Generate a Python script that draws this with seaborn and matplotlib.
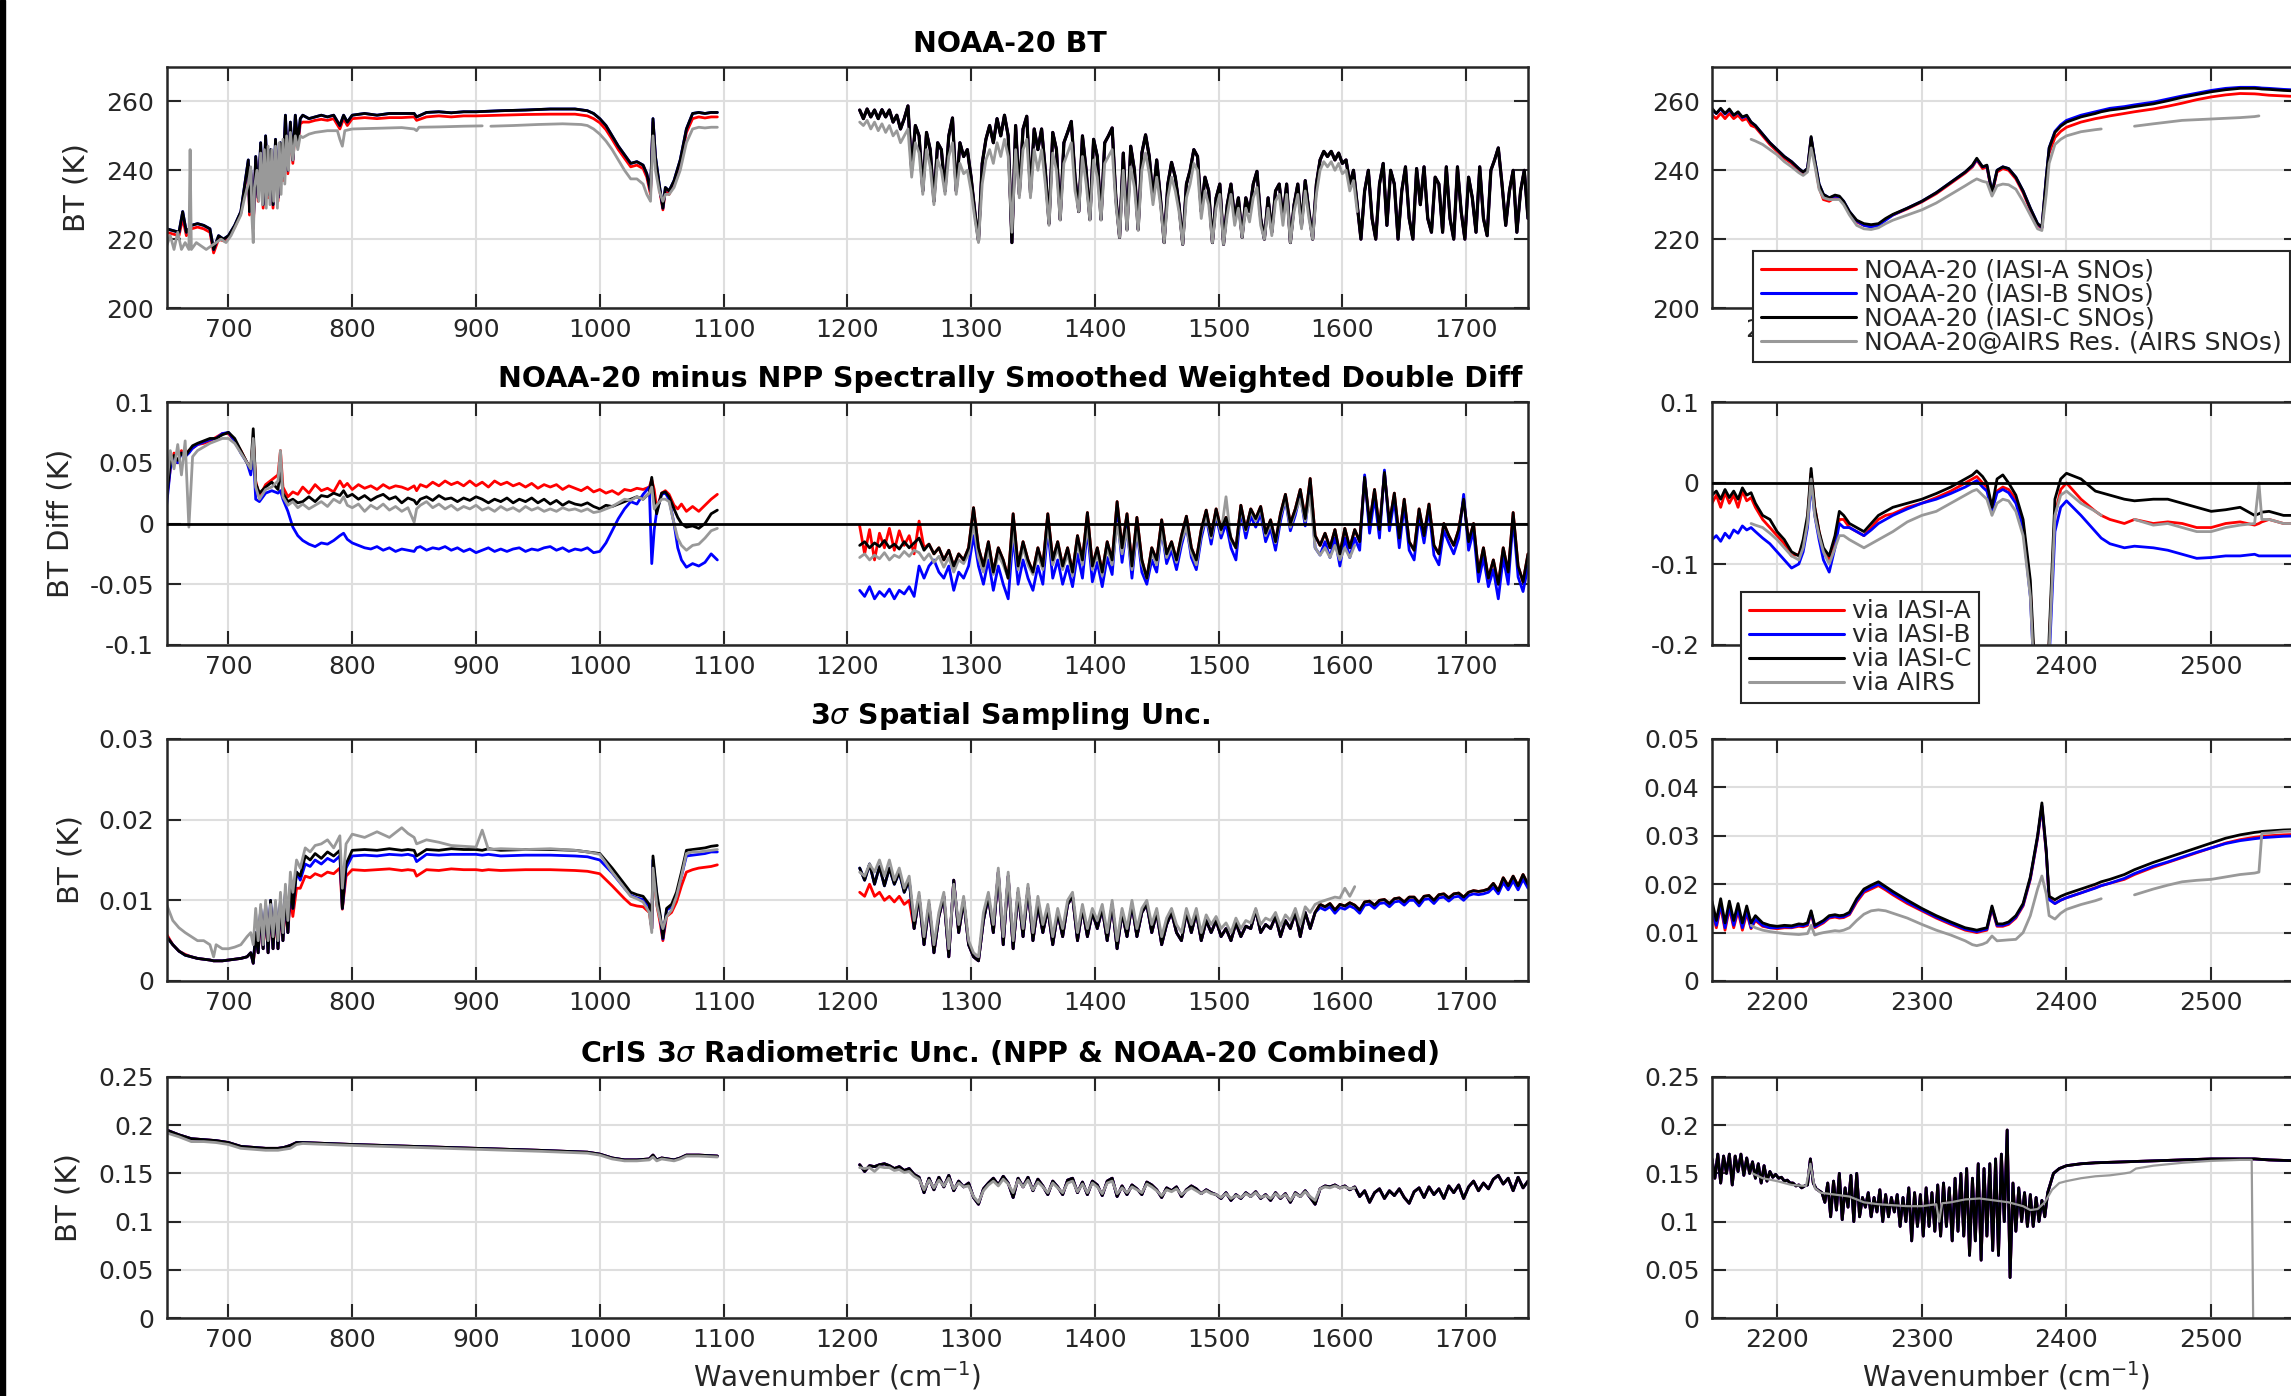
import numpy as np
import pandas as pd
import matplotlib
matplotlib.use("Agg")
import matplotlib.pyplot as plt
from matplotlib.lines import Line2D
from matplotlib.patches import Rectangle
from matplotlib.ticker import FuncFormatter
import seaborn as sns

nan = np.nan

# ---------------- Row 1: NOAA-20 BT (K) ----------------
bt1_x = [650, 655, 660, 663, 666, 670, 675, 680, 685, 688, 692, 696, 700, 705, 710, 714, 716, 717, 718, 720,
         722, 724, 726, 728, 730, 732, 734, 736, 738, 740, 742, 744, 746, 748, 750, 752, 754, 756, 758, 760,
         765, 770, 775, 780, 785, 790, 793, 796, 800, 810, 820, 830, 840, 850, 852, 860, 870, 880, 890, 900,
         920, 940, 960, 980, 990, 995, 1000, 1005, 1010, 1015, 1020, 1025, 1030, 1035, 1038, 1041, 1043, 1045, 1048, 1051,
         1053, 1056, 1060, 1065, 1070, 1075, 1080, 1085, 1090, 1095]
bt1_black = [223, 222.5, 222, 228, 222, 224, 224.5, 224, 223, 217, 221, 220, 221, 224, 228, 238, 243, 228, 240, 224,
             244, 232, 248, 230, 250, 233, 246, 230, 249, 232, 248, 238, 256, 240, 254, 243, 256, 248, 255, 256,
             255, 255.5, 256, 255.5, 256, 253, 256, 254, 256, 256.5, 256, 256.5, 256.5, 256.5, 255.5, 256.8, 257, 256.7, 257, 257,
             257.3, 257.5, 257.8, 257.8, 257.3, 256.5, 255, 253, 250, 247, 244.5, 242, 242.5, 241.5, 239, 234, 255, 244, 236, 229,
             235, 234, 237, 243, 252, 256.5, 256.8, 256.5, 256.8, 256.8]
bt1_red = [222, 221.5, 221, 226, 221, 223, 223.5, 223, 222, 216, 220, 219.5, 220.5, 223.5, 227.5, 237, 242, 227, 239, 223,
           243, 231, 246, 229, 248, 232, 244, 229, 247, 231, 246, 237, 253, 239, 252, 242, 253, 247, 253.5, 254,
           254, 254.5, 254.8, 254.5, 255, 252, 255, 253, 255, 255.3, 255, 255.3, 255.3, 255.5, 254.5, 255.5, 255.8, 255.5, 255.8, 255.8,
           256, 256.2, 256.3, 256.3, 255.8, 255, 253.8, 251.8, 249, 246, 243.5, 241, 241.5, 240.5, 238, 233, 254, 243, 235, 228.5,
           234, 233, 236, 242, 251, 255, 255.5, 255.2, 255.5, 255.5]
bt1_gray_x = [650, 653, 656, 659, 662, 665, 668, 669, 670, 674, 678, 682, 686, 690, 694, 698, 702, 706, 710, 713,
              716, 718, 719, 720, 721, 723, 724.5, 726, 727.5, 729, 730.5, 732, 733.5, 735, 736.5, 738, 739.5, 741, 742.5, 744,
              745.5, 747, 748.5, 750, 752, 754, 756, 758, 760, 765, 770, 780, 788, 790, 792, 794, 800, 820, 840, 850,
              852, 854, 870, 890, 905, 908, 912, 930, 950, 970, 985, 990, 995, 1000, 1005, 1010, 1015, 1020, 1025, 1030,
              1035, 1038, 1041, 1043, 1045, 1048, 1051, 1053, 1056, 1060, 1065, 1070, 1075, 1080, 1085, 1090, 1095]
bt1_gray = [218, 221, 217, 222, 217, 219, 217, 246, 217, 219, 218, 217, 218, 219, 220, 219, 221, 224, 227, 232,
            236, 241, 226, 219, 235, 240, 231, 245, 230, 246, 229, 247, 230, 246, 231, 247, 229, 248, 233, 249,
            236, 250, 240, 251, 243, 250, 246, 250, 249.5, 250.5, 251, 251.5, 251.5, 249, 247, 251.5, 252, 252.2, 252.4, 252,
            251.5, 252.5, 252.6, 252.8, 252.9, nan, 252.8, 253, 253.3, 253.5, 253.3, 253, 252, 250.5, 248.5, 246, 243, 240, 237.5, 237.5,
            236, 233, 231, 250, 240, 234, 231, 233, 233, 235, 240, 248, 252, 252.5, 252.3, 252.5, 252.5]

bt2_x = np.arange(1210, 1751, 3)
bt2_black = [257.5, 255, 257.8, 255.5, 257.5, 255, 257.6, 255.5, 257.5, 254, 256, 252, 255, 258.7, 240, 253, 250, 234, 251, 246,
             231, 248, 246, 234, 250, 255.2, 234, 248, 244, 246, 238, 228, 219.5, 242, 249, 253, 248, 255, 250, 256,
             250, 219, 253, 233, 252, 255.7, 233.5, 252, 246, 252, 240, 224.5, 251, 246, 225.7, 248, 251, 254.2, 238, 228,
             250, 240, 225.7, 249, 244, 225.7, 248, 250, 252.3, 232, 220.5, 245, 222.8, 247, 240, 222.8, 245, 250.3, 244, 231.5,
             243, 232, 219, 236, 242.3, 238, 230, 218.5, 236, 240, 246, 244, 228, 238, 234, 219, 232, 236, 218.5, 230,
             236, 226, 232, 220.5, 232, 228, 236, 239.7, 226, 220, 232, 222, 234, 236, 226, 236, 219, 230, 236, 224,
             237, 228, 220, 236, 243, 245.5, 244, 245.5, 243, 245, 242, 243, 236, 240, 230, 220, 234, 240, 226, 220,
             236, 242, 224, 240, 236, 220, 234, 241, 226, 220, 240.5, 230, 241, 226, 222, 238, 236, 222, 241, 226,
             220, 241, 228, 220, 238, 232, 222, 241, 226, 221, 240, 243, 246.5, 236, 224, 234, 240, 222, 234, 240,
             226]
bt2_gray = [254, 253, 254.5, 252, 254, 251.5, 253.5, 251, 253, 250, 251.5, 248, 250, 252, 238, 248, 245, 233, 246, 241,
            230, 243, 240, 233, 244, 248, 233, 242, 239, 240, 234, 226, 219, 236, 243, 246, 242, 248, 244, 249,
            244, 222, 246, 232, 246, 249, 232, 246, 240, 246, 236, 224, 245, 240, 225.5, 242, 245, 248, 234, 228,
            244, 236, 225.5, 243, 238, 225.5, 242, 244, 246, 230, 220.5, 240, 222.5, 241, 235, 222.5, 240, 245, 239, 230,
            238, 230, 219, 232, 238, 234, 228, 218.5, 232, 236, 242, 240, 226, 234, 230, 219, 229, 233, 218.5, 227,
            233, 224, 229, 220.5, 229, 225, 232, 235, 224, 220, 229, 221, 231, 233, 224, 233, 219, 228, 233, 223,
            234, 226, 220, 233, 240, 242.5, 241, 242.5, 240, 242, 239, 240, 234, 237, 228]

sw_x = [2155, 2158, 2161, 2164, 2167, 2170, 2173, 2176, 2179, 2182, 2185, 2190, 2195, 2200, 2205, 2210, 2215, 2218, 2221, 2223.5,
        2226, 2229, 2232, 2236, 2240, 2243, 2246, 2250, 2255, 2260, 2265, 2270, 2275, 2280, 2290, 2300, 2310, 2320, 2330, 2335,
        2338, 2342, 2345, 2348.5, 2352, 2356, 2360, 2365, 2370, 2375, 2380, 2383, 2386, 2388, 2392, 2396, 2400, 2410, 2420, 2424,
        2430, 2440, 2447, 2460, 2470, 2480, 2490, 2500, 2510, 2520, 2530, 2533, 2535, 2540, 2550, 2560]
bt_sw_black = [258, 256.5, 258, 256.5, 257.8, 256, 257, 255.5, 256, 254, 253, 250.5, 248, 246, 244, 242.5, 240.5, 239.5, 240.5, 249.8,
               243, 236, 233, 232, 232.8, 232.5, 231, 228, 225.5, 224.5, 224.2, 224.5, 226, 227.2, 229, 231, 233.5, 236.5, 239.5, 241.5,
               243.5, 241, 241.5, 233.5, 240, 241, 240.5, 238, 234, 229, 224.5, 223.5, 238, 246.5, 251, 252.8, 254, 255.5, 256.5, 257,
               257.5, 258, 258.5, 259.3, 260.2, 261.2, 262, 262.8, 263.4, 263.8, 263.8, 263.7, 263.6, 263.5, 263.2, 263]
bt_sw_red = [256, 255, 256.5, 255, 256.5, 255, 256, 254.5, 255, 253, 252.5, 250, 247.5, 245.5, 243.5, 242, 240, 239, 240, 249.3,
             242.5, 235, 231.5, 231, 232, 232, 230.5, 227.5, 225, 224, 223.8, 224.2, 225.8, 227, 228.8, 230.8, 233.2, 236.2, 239.2, 241,
             243, 240.5, 241, 233, 239.5, 240.5, 240, 237.5, 233.5, 228.5, 224, 223.2, 237, 245, 249.5, 251.3, 252.5, 254, 255, 255.3,
             255.8, 256.5, 257, 257.8, 258.6, 259.5, 260.5, 261.3, 261.9, 262.3, 262.2, 262.1, 262, 261.8, 261.6, 261.4]
bt_sw_blue = [257.5, 256.5, 257.8, 256.3, 257.5, 256, 256.8, 255.3, 255.8, 254, 253, 250.5, 248, 246, 244, 242.5, 240.5, 239.5, 240.5, 249.5,
              243, 236, 233, 232, 232.5, 232.3, 231, 228, 225.3, 224, 223.5, 224, 225.5, 227, 229, 231, 233.5, 236.5, 239.5, 241.3,
              243.2, 241, 241.3, 233.5, 240, 241, 240.5, 238, 234, 229, 224.5, 223.3, 238, 246.5, 251.3, 253.2, 254.5, 256, 257, 257.4,
              258, 258.5, 259, 259.8, 260.7, 261.6, 262.4, 263.2, 263.8, 264.1, 264.1, 264, 263.9, 263.8, 263.5, 263.3]
bt_sw_gray = [nan, nan, nan, nan, nan, nan, nan, nan, nan, 249, 248.5, 247.5, 246, 244.5, 242.5, 241, 239.3, 238.5, 239.5, 246.5,
              241.5, 234.5, 232, 231.5, 231.5, 231.5, 230, 227, 224, 223, 222.8, 223.3, 224.5, 225.5, 227, 228.5, 230.5, 233, 235.5, 236.8,
              237.5, 236.8, 236.5, 232.5, 235.5, 236, 235.8, 234.5, 231, 227, 223, 222.5, 233, 242, 247.5, 249, 250, 251.2, 251.8, 252,
              nan, nan, 252.8, 253.5, 254, 254.5, 254.7, 254.9, 255.1, 255.3, 255.6, 255.8, nan, nan, nan, nan]

# ---------------- Row 2: double difference (K) ----------------
dd1_x = [650, 653, 656, 659, 662, 665, 668, 671, 675, 680, 685, 690, 695, 700, 705, 710, 715, 718, 720, 722,
         725, 730, 735, 740, 742, 744, 748, 752, 756, 760, 765, 770, 775, 780, 785, 790, 793, 796, 800, 805,
         810, 815, 820, 825, 830, 835, 840, 845, 850, 852, 855, 860, 865, 870, 875, 880, 885, 890, 895, 900,
         905, 910, 915, 920, 925, 930, 935, 940, 945, 950, 955, 960, 965, 970, 975, 980, 985, 990, 995, 1000,
         1005, 1010, 1015, 1020, 1025, 1030, 1035, 1040, 1042, 1044, 1046, 1050, 1053, 1056, 1060, 1063, 1066, 1070, 1075, 1080,
         1085, 1090, 1095]
dd1_red = [0.02, 0.045, 0.058, 0.05, 0.06, 0.055, 0.06, 0.062, 0.065, 0.066, 0.068, 0.071, 0.074, 0.074, 0.068, 0.06, 0.05, 0.045, 0.07, 0.035,
           0.022, 0.032, 0.036, 0.04, 0.06, 0.03, 0.022, 0.026, 0.024, 0.03, 0.025, 0.032, 0.027, 0.029, 0.026, 0.035, 0.03, 0.033, 0.028, 0.032,
           0.029, 0.031, 0.028, 0.032, 0.029, 0.031, 0.03, 0.028, 0.031, 0.027, 0.032, 0.03, 0.034, 0.031, 0.035, 0.032, 0.034, 0.031, 0.035, 0.031,
           0.034, 0.03, 0.035, 0.032, 0.034, 0.031, 0.033, 0.03, 0.033, 0.029, 0.032, 0.03, 0.032, 0.028, 0.031, 0.029, 0.027, 0.03, 0.026, 0.028,
           0.025, 0.027, 0.024, 0.028, 0.027, 0.029, 0.028, 0.03, 0.036, 0.028, 0.012, 0.025, 0.027, 0.024, 0.015, 0.012, 0.016, 0.01, 0.014, 0.01,
           0.015, 0.02, 0.024]
dd1_black = [0.02, 0.05, 0.056, 0.052, 0.058, 0.055, 0.06, 0.064, 0.066, 0.068, 0.07, 0.07, 0.073, 0.075, 0.07, 0.06, 0.05, 0.045, 0.078, 0.033,
             0.025, 0.03, 0.034, 0.028, 0.045, 0.025, 0.018, 0.02, 0.017, 0.018, 0.022, 0.018, 0.023, 0.022, 0.025, 0.023, 0.027, 0.022, 0.024, 0.02,
             0.023, 0.019, 0.022, 0.024, 0.02, 0.022, 0.017, 0.021, 0.019, 0.016, 0.02, 0.022, 0.019, 0.023, 0.02, 0.021, 0.018, 0.021, 0.019, 0.022,
             0.02, 0.017, 0.02, 0.018, 0.021, 0.017, 0.02, 0.018, 0.021, 0.017, 0.02, 0.016, 0.019, 0.015, 0.018, 0.016, 0.015, 0.017, 0.014, 0.012,
             0.015, 0.014, 0.016, 0.018, 0.02, 0.022, 0.02, 0.025, 0.038, 0.02, 0.008, 0.025, 0.026, 0.022, 0.012, 0.005, 0.0, -0.003, -0.002, -0.004,
             0.0, 0.008, 0.011]
dd1_blue = [0.015, 0.045, 0.055, 0.05, 0.058, 0.055, 0.058, 0.062, 0.065, 0.067, 0.069, 0.07, 0.074, 0.075, 0.068, 0.058, 0.05, 0.04, 0.06, 0.02,
            0.018, 0.025, 0.027, 0.025, 0.027, 0.02, 0.01, -0.003, -0.01, -0.014, -0.017, -0.019, -0.016, -0.017, -0.014, -0.01, -0.008, -0.013, -0.016, -0.018,
            -0.02, -0.021, -0.019, -0.022, -0.02, -0.023, -0.021, -0.022, -0.023, -0.02, -0.019, -0.022, -0.02, -0.021, -0.019, -0.022, -0.02, -0.023, -0.021, -0.024,
            -0.022, -0.02, -0.023, -0.021, -0.023, -0.021, -0.02, -0.023, -0.021, -0.022, -0.02, -0.019, -0.022, -0.02, -0.023, -0.021, -0.022, -0.02, -0.024, -0.023,
            -0.016, -0.006, 0.004, 0.012, 0.018, 0.016, 0.024, 0.03, -0.033, -0.005, 0.01, 0.024, 0.025, 0.02, 0.0, -0.02, -0.03, -0.036, -0.033, -0.035,
            -0.032, -0.025, -0.03]
dd1_gray = [0.03, 0.06, 0.045, 0.065, 0.04, 0.068, -0.003, 0.055, 0.06, 0.063, 0.066, 0.068, 0.07, 0.07, 0.066, 0.058, 0.05, 0.045, 0.07, 0.03,
            0.02, 0.028, 0.03, 0.035, 0.06, 0.022, 0.015, 0.018, 0.013, 0.016, 0.012, 0.015, 0.018, 0.014, 0.02, 0.017, 0.022, 0.015, 0.013, 0.016,
            0.01, 0.015, 0.012, 0.016, 0.011, 0.014, 0.01, 0.013, 0.001, 0.012, 0.015, 0.018, 0.013, 0.016, 0.012, 0.015, 0.011, 0.014, 0.012, 0.015,
            0.011, 0.013, 0.01, 0.014, 0.011, 0.013, 0.01, 0.014, 0.011, 0.013, 0.01, 0.012, 0.01, 0.013, 0.011, 0.012, 0.01, 0.012, 0.009, 0.01,
            0.012, 0.014, 0.017, 0.02, 0.019, 0.022, 0.02, 0.025, 0.03, 0.012, 0.015, 0.02, 0.02, 0.018, 0.0, -0.012, -0.018, -0.022, -0.018, -0.017,
            -0.012, -0.006, -0.004]

dd2_x = np.arange(1210, 1751, 4)
dd2_black = [-0.018, -0.015, -0.02, -0.016, -0.019, -0.014, -0.02, -0.017, -0.021, -0.015, -0.02, -0.016, -0.012, -0.022, -0.017, -0.025, -0.02, -0.03, -0.022, -0.035,
             -0.025, -0.03, -0.02, 0.013, -0.02, -0.035, -0.015, -0.04, -0.02, -0.03, -0.045, 0.008, -0.035, -0.015, -0.03, -0.04, -0.02, -0.035, 0.008, -0.03,
             -0.015, -0.035, -0.02, -0.04, -0.01, -0.03, 0.009, -0.035, -0.02, -0.04, -0.015, -0.03, 0.018, -0.02, 0.008, -0.035, 0.005, -0.03, -0.045, -0.02,
             -0.03, 0.003, -0.025, -0.015, -0.03, -0.01, 0.006, -0.02, -0.03, -0.005, 0.011, -0.01, 0.012, -0.005, 0.005, -0.012, -0.02, 0.015, -0.005, 0.012,
             0.004, 0.014, -0.008, 0.003, -0.015, 0.008, 0.024, 0.0, 0.012, 0.028, 0.004, 0.037, -0.01, -0.018, -0.008, -0.02, -0.005, -0.025, -0.004, -0.02,
             -0.005, -0.015, 0.038, 0.0, 0.028, -0.005, 0.042, 0.0, 0.025, -0.012, 0.02, -0.015, -0.022, 0.012, -0.01, 0.016, -0.018, -0.025, 0.0, -0.01,
             -0.018, -0.005, 0.02, -0.015, 0.0, -0.04, -0.02, -0.045, -0.03, -0.05, -0.02, -0.04, 0.009, -0.035, -0.048, -0.025]
dd2_blue = [-0.055, -0.06, -0.052, -0.062, -0.056, -0.06, -0.054, -0.062, -0.055, -0.058, -0.052, -0.06, -0.035, -0.045, -0.035, -0.03, -0.04, -0.045, -0.035, -0.055,
            -0.04, -0.045, -0.035, -0.01, -0.035, -0.05, -0.03, -0.055, -0.035, -0.05, -0.062, -0.01, -0.05, -0.03, -0.045, -0.055, -0.035, -0.05, -0.005, -0.045,
            -0.03, -0.05, -0.035, -0.052, -0.025, -0.045, -0.005, -0.048, -0.032, -0.052, -0.028, -0.042, 0.008, -0.032, -0.002, -0.045, -0.005, -0.04, -0.05, -0.03,
            -0.04, -0.005, -0.033, -0.022, -0.038, -0.018, -0.002, -0.028, -0.038, -0.012, 0.005, -0.017, 0.006, -0.012, 0.0, -0.02, -0.03, 0.01, -0.012, 0.006,
            -0.003, 0.008, -0.015, -0.004, -0.022, 0.002, 0.02, -0.006, 0.007, 0.024, -0.002, 0.033, -0.02, -0.026, -0.015, -0.028, -0.012, -0.035, -0.012, -0.028,
            -0.012, -0.022, 0.04, -0.008, 0.022, -0.012, 0.044, -0.006, 0.02, -0.02, 0.015, -0.022, -0.03, 0.006, -0.016, 0.012, -0.026, -0.034, -0.006, -0.016,
            -0.025, -0.012, 0.024, -0.022, -0.006, -0.048, -0.028, -0.052, -0.038, -0.062, -0.028, -0.05, 0.004, -0.044, -0.056, -0.035]
dd2_gray = [-0.028, -0.025, -0.03, -0.026, -0.029, -0.024, -0.03, -0.026, -0.028, -0.023, -0.027, -0.022, -0.024, -0.03, -0.025, -0.032, -0.027, -0.036, -0.028, -0.04,
            -0.03, -0.033, -0.025, 0.0, -0.028, -0.04, -0.022, -0.042, -0.026, -0.034, -0.045, -0.005, -0.038, -0.02, -0.034, -0.042, -0.026, -0.038, -0.002, -0.034,
            -0.02, -0.038, -0.025, -0.043, -0.016, -0.034, -0.002, -0.038, -0.025, -0.043, -0.02, -0.034, 0.0, -0.025, -0.005, -0.038, -0.006, -0.033, -0.045, -0.024,
            -0.034, -0.006, -0.028, -0.018, -0.032, -0.014, -0.003, -0.024, -0.034, -0.008, 0.006, -0.012, 0.008, -0.008, 0.022, -0.014, -0.02, 0.012, -0.006, 0.01,
            0.002, 0.012, -0.01, 0.0, -0.016, 0.006, 0.02, -0.003, 0.01, 0.02, 0.002, 0.023, -0.02, -0.026, -0.02, -0.028, -0.018, -0.03, -0.02, -0.028,
            -0.018]
dd2_red_head = [-0.002, -0.025, -0.005, -0.03, -0.008, -0.02, -0.004, -0.022, -0.006, -0.018, -0.01, -0.025, 0.002, -0.02]

dd_sw_red = [-0.025, -0.015, -0.03, -0.012, -0.025, -0.015, -0.03, -0.01, -0.022, -0.018, -0.03, -0.045, -0.055, -0.065, -0.075, -0.09, -0.088, -0.075, -0.045, 0.012,
             -0.03, -0.06, -0.085, -0.095, -0.07, -0.045, -0.045, -0.055, -0.06, -0.065, -0.055, -0.045, -0.04, -0.038, -0.03, -0.025, -0.018, -0.01, 0.0, 0.005,
             0.008, 0.0, -0.005, -0.03, -0.01, -0.005, -0.008, -0.02, -0.05, -0.13, -0.32, -0.4, -0.3, -0.2, -0.04, -0.008, 0.0, -0.02, -0.035, -0.04,
             -0.045, -0.05, -0.045, -0.05, -0.048, -0.05, -0.055, -0.055, -0.05, -0.048, -0.052, -0.05, -0.048, -0.045, -0.05, -0.05]
dd_sw_black = [-0.015, -0.01, -0.02, -0.008, -0.018, -0.01, -0.02, -0.006, -0.015, -0.012, -0.025, -0.04, -0.045, -0.06, -0.07, -0.085, -0.09, -0.07, -0.04, 0.018,
               -0.03, -0.06, -0.08, -0.09, -0.065, -0.035, -0.04, -0.05, -0.055, -0.06, -0.05, -0.04, -0.035, -0.03, -0.025, -0.02, -0.013, -0.005, 0.005, 0.01,
               0.015, 0.008, 0.0, -0.03, 0.005, 0.01, 0.0, -0.015, -0.045, -0.12, -0.3, -0.4, -0.3, -0.19, -0.02, 0.005, 0.012, 0.005, -0.01, -0.012,
               -0.015, -0.02, -0.022, -0.02, -0.02, -0.025, -0.03, -0.035, -0.033, -0.03, -0.04, -0.038, -0.036, -0.035, -0.04, -0.04]
dd_sw_blue = [-0.07, -0.065, -0.072, -0.062, -0.068, -0.058, -0.062, -0.053, -0.058, -0.055, -0.06, -0.068, -0.075, -0.085, -0.095, -0.105, -0.1, -0.085, -0.055, 0.0,
              -0.04, -0.07, -0.095, -0.11, -0.08, -0.05, -0.055, -0.055, -0.06, -0.065, -0.058, -0.05, -0.045, -0.04, -0.032, -0.025, -0.02, -0.013, -0.005, 0.0,
              0.003, -0.005, -0.01, -0.035, -0.012, -0.008, -0.012, -0.025, -0.055, -0.14, -0.33, -0.4, -0.32, -0.22, -0.06, -0.03, -0.022, -0.04, -0.06, -0.068,
              -0.075, -0.08, -0.078, -0.08, -0.083, -0.088, -0.093, -0.092, -0.09, -0.09, -0.088, -0.09, -0.09, -0.09, -0.09, -0.09]
dd_sw_gray = [nan, nan, nan, nan, nan, nan, nan, nan, nan, -0.05, -0.052, -0.055, -0.062, -0.07, -0.08, -0.09, -0.095, -0.08, -0.05, 0.005,
              -0.04, -0.065, -0.085, -0.1, -0.08, -0.065, -0.065, -0.07, -0.075, -0.08, -0.075, -0.07, -0.065, -0.06, -0.048, -0.04, -0.035, -0.025, -0.015, -0.01,
              -0.008, -0.015, -0.02, -0.04, -0.025, -0.02, -0.022, -0.035, -0.065, -0.14, -0.33, -0.4, -0.32, -0.21, -0.04, -0.015, -0.01, -0.025, -0.035, -0.04,
              nan, nan, -0.045, -0.052, -0.05, -0.055, -0.06, -0.06, -0.055, -0.052, -0.05, 0.0, -0.045, -0.045, -0.05, -0.05]

# ---------------- Row 3: 3-sigma spatial sampling uncertainty (K) ----------------
ss1_x = [650, 655, 660, 665, 670, 675, 680, 685, 688, 690, 695, 700, 705, 710, 715, 718, 720, 722, 724, 726,
         728, 730, 732, 734, 736, 738, 740, 742, 744, 746, 748, 750, 752, 755, 758, 762, 766, 770, 775, 780,
         785, 790, 792, 795, 800, 810, 820, 830, 840, 845, 850, 852, 860, 870, 880, 890, 900, 905, 910, 920,
         940, 960, 980, 990, 1000, 1010, 1020, 1025, 1030, 1035, 1040, 1042, 1043, 1046, 1049, 1051, 1054, 1058, 1062, 1066,
         1070, 1075, 1080, 1085, 1090, 1095]
ss1_black = [0.0055, 0.0045, 0.0037, 0.0032, 0.003, 0.0028, 0.0027, 0.0026, 0.0025, 0.0025, 0.0025, 0.0026, 0.0027, 0.0028, 0.003, 0.0035, 0.0022, 0.006, 0.0035, 0.009,
             0.004, 0.0095, 0.0035, 0.01, 0.004, 0.0095, 0.004, 0.01, 0.005, 0.011, 0.006, 0.012, 0.009, 0.0135, 0.013, 0.0155, 0.015, 0.0158, 0.0152, 0.016,
             0.0155, 0.0162, 0.009, 0.0145, 0.0162, 0.0163, 0.0162, 0.0164, 0.0162, 0.0163, 0.0162, 0.0155, 0.0163, 0.0162, 0.0164, 0.0163, 0.0163, 0.0162, 0.0164, 0.0162,
             0.0163, 0.0163, 0.0162, 0.016, 0.0158, 0.014, 0.012, 0.011, 0.0107, 0.0105, 0.0095, 0.0065, 0.0155, 0.011, 0.008, 0.0053, 0.009, 0.0095, 0.011, 0.0135,
             0.0162, 0.0163, 0.0164, 0.0165, 0.0167, 0.0168]
ss1_red = [0.0058, 0.0045, 0.0037, 0.0033, 0.003, 0.0028, 0.0027, 0.0026, 0.0025, 0.0025, 0.0025, 0.0026, 0.0027, 0.0028, 0.003, 0.0035, 0.0022, 0.005, 0.0035, 0.008,
           0.004, 0.0085, 0.0035, 0.009, 0.004, 0.0085, 0.004, 0.009, 0.005, 0.0095, 0.006, 0.0105, 0.008, 0.0115, 0.0115, 0.013, 0.0128, 0.0133, 0.013, 0.0135,
           0.0133, 0.014, 0.0089, 0.013, 0.0138, 0.0137, 0.0138, 0.0139, 0.0137, 0.0138, 0.0137, 0.013, 0.0138, 0.0137, 0.0139, 0.0138, 0.0138, 0.0137, 0.0138, 0.0137,
           0.0138, 0.0138, 0.0137, 0.0136, 0.0133, 0.0118, 0.0102, 0.0095, 0.0093, 0.0092, 0.0085, 0.0065, 0.014, 0.0095, 0.007, 0.005, 0.008, 0.0085, 0.0098, 0.0118,
           0.0135, 0.0138, 0.014, 0.0141, 0.0142, 0.0144]
ss1_blue = [0.0055, 0.0045, 0.0037, 0.0032, 0.003, 0.0028, 0.0027, 0.0026, 0.0025, 0.0025, 0.0025, 0.0026, 0.0027, 0.0028, 0.003, 0.0035, 0.0022, 0.006, 0.0035, 0.009,
            0.004, 0.0095, 0.0035, 0.01, 0.004, 0.0095, 0.004, 0.01, 0.005, 0.011, 0.006, 0.012, 0.009, 0.0135, 0.0125, 0.0145, 0.0142, 0.015, 0.0145, 0.0152,
            0.0148, 0.0155, 0.009, 0.014, 0.0155, 0.0156, 0.0155, 0.0157, 0.0156, 0.0157, 0.0155, 0.0148, 0.0157, 0.0156, 0.0157, 0.0157, 0.0157, 0.0156, 0.0157, 0.0155,
            0.0156, 0.0156, 0.0155, 0.0154, 0.015, 0.0134, 0.0115, 0.0106, 0.0103, 0.0101, 0.0092, 0.0065, 0.015, 0.0106, 0.0077, 0.0052, 0.0088, 0.0092, 0.0106, 0.013,
            0.0155, 0.0156, 0.0157, 0.0158, 0.016, 0.016]
ss1_gray = [0.0095, 0.0075, 0.0066, 0.006, 0.0055, 0.005, 0.005, 0.0045, 0.003, 0.0045, 0.004, 0.004, 0.0042, 0.0045, 0.0055, 0.006, 0.0045, 0.009, 0.005, 0.0095,
            0.0045, 0.01, 0.005, 0.0095, 0.0055, 0.01, 0.005, 0.011, 0.006, 0.012, 0.0075, 0.0135, 0.011, 0.015, 0.014, 0.0165, 0.016, 0.0168, 0.017, 0.0175,
            0.0165, 0.018, 0.0115, 0.017, 0.0182, 0.0178, 0.0185, 0.0178, 0.019, 0.0183, 0.0178, 0.017, 0.0175, 0.0172, 0.0168, 0.0167, 0.0166, 0.0187, 0.0163, 0.0164,
            0.0163, 0.0164, 0.0162, 0.016, 0.0157, 0.0135, 0.0115, 0.0105, 0.0102, 0.0098, 0.0085, 0.006, 0.014, 0.0095, 0.0075, 0.0065, 0.008, 0.0088, 0.0105, 0.013,
            0.0158, 0.016, 0.016, 0.0161, 0.0162, 0.0163]

ss2_x = np.arange(1210, 1751, 4)
ss2_black = [0.014, 0.0125, 0.0145, 0.012, 0.0142, 0.0118, 0.014, 0.012, 0.0135, 0.011, 0.0125, 0.0065, 0.0105, 0.0045, 0.0095, 0.0035, 0.008, 0.0105, 0.003, 0.0125,
             0.006, 0.01, 0.0045, 0.003, 0.0025, 0.0075, 0.0105, 0.006, 0.0135, 0.0045, 0.013, 0.004, 0.011, 0.0055, 0.0115, 0.005, 0.0095, 0.006, 0.009, 0.0045,
             0.0085, 0.0055, 0.0095, 0.0105, 0.005, 0.009, 0.0055, 0.0085, 0.0065, 0.009, 0.005, 0.0095, 0.004, 0.0085, 0.0055, 0.0095, 0.0055, 0.0085, 0.0095, 0.006,
             0.0085, 0.0045, 0.007, 0.0085, 0.006, 0.005, 0.0085, 0.006, 0.0085, 0.005, 0.0075, 0.006, 0.0075, 0.0055, 0.0065, 0.005, 0.0072, 0.0055, 0.0068, 0.0065,
             0.0088, 0.006, 0.007, 0.0065, 0.008, 0.0055, 0.0075, 0.0065, 0.0085, 0.0055, 0.0085, 0.0065, 0.0085, 0.0095, 0.0092, 0.0096, 0.0088, 0.0095, 0.0093, 0.0097,
             0.0094, 0.0088, 0.0098, 0.0099, 0.0094, 0.01, 0.0101, 0.0096, 0.0102, 0.0103, 0.0098, 0.0104, 0.0104, 0.0097, 0.0105, 0.0106, 0.01, 0.0107, 0.0108, 0.0103,
             0.0108, 0.0109, 0.0104, 0.011, 0.0112, 0.0111, 0.0112, 0.0114, 0.0121, 0.0112, 0.0128, 0.0118, 0.013, 0.0118, 0.0132, 0.012]
ss2_blue_tail = [0.0091, 0.0088, 0.0092, 0.0084, 0.0091, 0.0089, 0.0093, 0.009, 0.0084, 0.0094, 0.0095, 0.009, 0.0096, 0.0097, 0.0092, 0.0098, 0.0099, 0.0094, 0.01, 0.01,
                 0.0093, 0.0101, 0.0102, 0.0096, 0.0103, 0.0104, 0.0099, 0.0104, 0.0105, 0.01, 0.0106, 0.0108, 0.0107, 0.0108, 0.011, 0.0116, 0.0108, 0.0122, 0.0113, 0.0124,
                 0.0113, 0.0126, 0.0115]
ss2_red_head = [0.011, 0.0105, 0.012, 0.0105, 0.011, 0.01, 0.0105, 0.0098, 0.0105, 0.0095, 0.01]
ss2_gray = [0.0135, 0.013, 0.0145, 0.0135, 0.015, 0.013, 0.015, 0.0125, 0.014, 0.0115, 0.013, 0.0075, 0.011, 0.0055, 0.01, 0.0045, 0.0085, 0.011, 0.004, 0.012,
            0.007, 0.0105, 0.005, 0.0035, 0.003, 0.0085, 0.011, 0.007, 0.014, 0.0055, 0.0135, 0.005, 0.0115, 0.0065, 0.012, 0.006, 0.0105, 0.007, 0.0095, 0.0055,
            0.009, 0.0065, 0.01, 0.011, 0.006, 0.0095, 0.0065, 0.009, 0.0075, 0.0095, 0.006, 0.01, 0.005, 0.009, 0.0065, 0.01, 0.0065, 0.009, 0.01, 0.007,
            0.009, 0.0055, 0.0078, 0.009, 0.007, 0.006, 0.009, 0.007, 0.009, 0.006, 0.0082, 0.007, 0.008, 0.0065, 0.0072, 0.006, 0.0078, 0.0065, 0.0075, 0.0072,
            0.009, 0.007, 0.0078, 0.0075, 0.0085, 0.0068, 0.0082, 0.0075, 0.009, 0.007, 0.0092, 0.0085, 0.0095, 0.0098, 0.01, 0.0102, 0.0104, 0.0103, 0.0115, 0.0105,
            0.0117]

ss_sw_black = [0.0165, 0.0125, 0.017, 0.012, 0.0165, 0.0125, 0.016, 0.012, 0.0155, 0.012, 0.0135, 0.012, 0.0115, 0.0113, 0.0115, 0.0114, 0.0118, 0.0117, 0.012, 0.0145,
               0.0115, 0.012, 0.0125, 0.0135, 0.0137, 0.0135, 0.0136, 0.0142, 0.017, 0.019, 0.0198, 0.0205, 0.0195, 0.0185, 0.0167, 0.015, 0.0135, 0.0122, 0.011, 0.0107,
               0.0105, 0.0108, 0.011, 0.0155, 0.0118, 0.0118, 0.0122, 0.0135, 0.016, 0.0215, 0.03, 0.0368, 0.027, 0.0175, 0.0168, 0.0175, 0.018, 0.019, 0.02, 0.0205,
               0.021, 0.022, 0.023, 0.0245, 0.0255, 0.0265, 0.0275, 0.0285, 0.0295, 0.0302, 0.0307, 0.0308, 0.0309, 0.031, 0.0312, 0.0313]
ss_sw_red = [0.0145, 0.011, 0.0155, 0.0105, 0.015, 0.011, 0.0145, 0.0105, 0.014, 0.0108, 0.0125, 0.0113, 0.011, 0.0108, 0.011, 0.011, 0.0113, 0.0112, 0.0115, 0.014,
             0.011, 0.0115, 0.012, 0.013, 0.0132, 0.013, 0.0131, 0.0137, 0.0163, 0.0183, 0.019, 0.0197, 0.0188, 0.0178, 0.016, 0.0145, 0.013, 0.0117, 0.0105, 0.0102,
             0.01, 0.0103, 0.0105, 0.015, 0.0113, 0.0113, 0.0117, 0.013, 0.0155, 0.021, 0.0295, 0.036, 0.0265, 0.017, 0.016, 0.0167, 0.0172, 0.0182, 0.0193, 0.0197,
             0.0202, 0.021, 0.022, 0.0235, 0.0245, 0.0255, 0.0265, 0.0275, 0.0285, 0.0292, 0.0297, 0.0298, 0.0299, 0.03, 0.0302, 0.0303]
ss_sw_blue = [0.015, 0.0115, 0.016, 0.011, 0.0155, 0.0115, 0.015, 0.011, 0.0145, 0.011, 0.0128, 0.0115, 0.011, 0.011, 0.0112, 0.0111, 0.0115, 0.0114, 0.0117, 0.0142,
              0.0112, 0.0117, 0.0122, 0.0132, 0.0134, 0.0132, 0.0133, 0.0139, 0.0166, 0.0186, 0.0193, 0.02, 0.0191, 0.0181, 0.0163, 0.0147, 0.0132, 0.0119, 0.0107, 0.0104,
              0.0102, 0.0105, 0.0107, 0.0152, 0.0115, 0.0115, 0.0119, 0.0132, 0.0157, 0.0212, 0.0297, 0.0362, 0.0267, 0.0168, 0.016, 0.0167, 0.0172, 0.0182, 0.0192, 0.0197,
              0.0202, 0.0212, 0.0222, 0.0237, 0.0246, 0.0256, 0.0266, 0.0275, 0.0284, 0.029, 0.0294, 0.0295, 0.0296, 0.0297, 0.0299, 0.03]
ss_sw_gray = [nan, nan, nan, nan, nan, nan, nan, nan, nan, 0.0115, 0.011, 0.0105, 0.0102, 0.01, 0.0098, 0.0097, 0.0096, 0.0097, 0.0098, 0.0115,
              0.0095, 0.0098, 0.01, 0.0102, 0.0104, 0.0103, 0.0105, 0.011, 0.0125, 0.0138, 0.0145, 0.0147, 0.0145, 0.014, 0.013, 0.0117, 0.0105, 0.0095, 0.0083, 0.0075,
              0.0073, 0.0076, 0.008, 0.0093, 0.0083, 0.0084, 0.0085, 0.0086, 0.01, 0.0135, 0.019, 0.0217, 0.018, 0.0135, 0.0128, 0.014, 0.0148, 0.0158, 0.0166, 0.017,
              nan, nan, 0.0178, 0.019, 0.0198, 0.0205, 0.0208, 0.021, 0.0215, 0.022, 0.0223, 0.0225, 0.0305, 0.0306, 0.0309, 0.031]

# ---------------- Row 4: 3-sigma radiometric uncertainty (K) ----------------
ru1_x = [650, 660, 670, 680, 690, 700, 710, 720, 730, 740, 745, 750, 755, 760, 780, 800, 850, 900, 950, 990,
         1000, 1010, 1020, 1030, 1040, 1043, 1046, 1050, 1060, 1065, 1070, 1080, 1095]
ru1_black = [0.195, 0.19, 0.186, 0.185, 0.184, 0.182, 0.178, 0.177, 0.176, 0.176, 0.177, 0.179, 0.182, 0.182, 0.181, 0.18, 0.178, 0.176, 0.174, 0.172,
             0.17, 0.166, 0.164, 0.164, 0.165, 0.169, 0.164, 0.166, 0.164, 0.166, 0.169, 0.169, 0.168]
ru1_gray = [0.192, 0.188, 0.183, 0.183, 0.182, 0.18, 0.176, 0.175, 0.174, 0.174, 0.175, 0.176, 0.18, 0.181, 0.18, 0.179, 0.177, 0.175, 0.173, 0.171,
            0.169, 0.165, 0.163, 0.163, 0.164, 0.167, 0.163, 0.165, 0.163, 0.165, 0.168, 0.168, 0.167]

ru2_x = np.arange(1210, 1751, 4)
ru2_black = [0.159, 0.152, 0.158, 0.157, 0.159, 0.16, 0.158, 0.155, 0.157, 0.153, 0.155, 0.149, 0.146, 0.13, 0.145, 0.133, 0.146, 0.136, 0.148, 0.132,
             0.142, 0.136, 0.14, 0.125, 0.118, 0.134, 0.14, 0.145, 0.138, 0.147, 0.14, 0.125, 0.145, 0.136, 0.146, 0.132, 0.144, 0.137, 0.128, 0.142,
             0.136, 0.128, 0.143, 0.145, 0.13, 0.141, 0.128, 0.142, 0.138, 0.127, 0.142, 0.145, 0.126, 0.137, 0.128, 0.138, 0.134, 0.128, 0.141, 0.138,
             0.133, 0.125, 0.135, 0.132, 0.136, 0.126, 0.133, 0.137, 0.134, 0.129, 0.133, 0.13, 0.128, 0.124, 0.13, 0.122, 0.128, 0.124, 0.13, 0.126,
             0.131, 0.124, 0.128, 0.122, 0.13, 0.124, 0.129, 0.12, 0.13, 0.126, 0.132, 0.125, 0.118, 0.134, 0.137, 0.136, 0.138, 0.135, 0.137, 0.133,
             0.136, 0.126, 0.132, 0.12, 0.13, 0.134, 0.124, 0.132, 0.127, 0.134, 0.125, 0.119, 0.131, 0.135, 0.125, 0.136, 0.128, 0.134, 0.124, 0.137,
             0.13, 0.138, 0.124, 0.136, 0.142, 0.132, 0.14, 0.134, 0.144, 0.148, 0.139, 0.145, 0.132, 0.146, 0.135, 0.142]
ru2_gray = [0.156, 0.155, 0.156, 0.152, 0.157, 0.156, 0.156, 0.153, 0.154, 0.151, 0.152, 0.147, 0.144, 0.133, 0.143, 0.135, 0.143, 0.137, 0.145, 0.134,
            0.14, 0.136, 0.137, 0.126, 0.12, 0.132, 0.138, 0.142, 0.137, 0.144, 0.139, 0.13, 0.143, 0.136, 0.143, 0.133, 0.141, 0.136, 0.13, 0.14,
            0.135, 0.13, 0.14, 0.142, 0.131, 0.139, 0.13, 0.14, 0.136, 0.129, 0.14, 0.142, 0.129, 0.135, 0.13, 0.136, 0.133, 0.13, 0.139, 0.136,
            0.132, 0.127, 0.133, 0.131, 0.134, 0.128, 0.132, 0.135, 0.132, 0.129, 0.132, 0.129, 0.128, 0.125, 0.129, 0.124, 0.127, 0.125, 0.129, 0.126,
            0.13, 0.125, 0.127, 0.124, 0.129, 0.125, 0.128, 0.122, 0.129, 0.126, 0.131, 0.126, 0.122, 0.134, 0.136, 0.135, 0.137, 0.135, 0.136, 0.134,
            0.135]

ru_sw_x = list(np.arange(2155, 2392, 2)) + [2395, 2400, 2410, 2420, 2440, 2460, 2480, 2500, 2520, 2530, 2540, 2560]
ru_sw_black = [0.165, 0.145, 0.17, 0.14, 0.168, 0.15, 0.17, 0.138, 0.168, 0.152, 0.17, 0.148, 0.166, 0.15, 0.162, 0.145, 0.16, 0.14, 0.158, 0.142,
               0.152, 0.146, 0.149, 0.145, 0.146, 0.142, 0.143, 0.14, 0.14, 0.137, 0.138, 0.135, 0.137, 0.138, 0.165, 0.14, 0.134, 0.132, 0.13, 0.12,
               0.14, 0.105, 0.142, 0.112, 0.15, 0.102, 0.135, 0.115, 0.148, 0.1, 0.15, 0.105, 0.125, 0.115, 0.13, 0.105, 0.125, 0.11, 0.133, 0.1,
               0.128, 0.105, 0.125, 0.11, 0.128, 0.095, 0.125, 0.1, 0.135, 0.08, 0.13, 0.095, 0.128, 0.085, 0.135, 0.095, 0.13, 0.09, 0.138, 0.085,
               0.14, 0.095, 0.135, 0.08, 0.145, 0.09, 0.15, 0.085, 0.155, 0.065, 0.145, 0.08, 0.16, 0.06, 0.155, 0.085, 0.16, 0.07, 0.165, 0.065,
               0.17, 0.1, 0.195, 0.042, 0.14, 0.09, 0.135, 0.1, 0.13, 0.095, 0.128, 0.095, 0.125, 0.1, 0.122, 0.105, 0.13, 0.14, 0.15,
               0.155, 0.158, 0.16, 0.161, 0.162, 0.163, 0.164, 0.165, 0.165, 0.165, 0.164, 0.163]
ru_sw_gray_x = [2183, 2190, 2200, 2210, 2220, 2223, 2226, 2230, 2240, 2250, 2260, 2270, 2280, 2290, 2300, 2310, 2312, 2314, 2320, 2330,
                2340, 2350, 2360, 2370, 2375, 2380, 2385, 2390, 2395, 2400, 2410, 2420, 2430, 2440, 2444, 2448, 2460, 2480, 2500, 2520,
                2528, 2529, 2530]
ru_sw_gray = [0.15, 0.145, 0.142, 0.138, 0.137, 0.16, 0.135, 0.13, 0.128, 0.126, 0.12, 0.118, 0.117, 0.116, 0.116, 0.118, 0.1, 0.119, 0.12, 0.123,
              0.124, 0.122, 0.12, 0.116, 0.112, 0.113, 0.12, 0.133, 0.14, 0.142, 0.145, 0.147, 0.148, 0.15, 0.151, 0.155, 0.158, 0.161, 0.163, 0.164,
              0.164, 0.0, -0.01]

titles = ["NOAA-20 BT",
          "NOAA-20 minus NPP Spectrally Smoothed Weighted Double Diff",
          "3$\\sigma$ Spatial Sampling Unc.",
          "CrIS 3$\\sigma$ Radiometric Unc. (NPP & NOAA-20 Combined)"]
ylabels = ["BT (K)", "BT Diff (K)", "BT (K)", "BT (K)"]
bt_legend = ["NOAA-20 (IASI-A SNOs)", "NOAA-20 (IASI-B SNOs)", "NOAA-20 (IASI-C SNOs)", "NOAA-20@AIRS Res. (AIRS SNOs)"]
dd_legend = ["via IASI-A", "via IASI-B", "via IASI-C", "via AIRS"]

RED, BLUE, BLACK, GRAY = "#ff0000", "#0000ff", "#000000", "#999999"
INK = "#262626"

# red / blue lie under black in these bands, so they reuse the black readings there
dd2_red = dd2_red_head + dd2_black[len(dd2_red_head):]
ss2_red = ss2_red_head + ss2_black[len(ss2_red_head):]
ss2_blue = ss2_black[:len(ss2_black) - len(ss2_blue_tail)] + ss2_blue_tail


def check(x, y, name):
    if len(x) != len(y):
        raise ValueError(f"{name}: {len(x)} x vs {len(y)} y")


def draw(ax, x, y, color, name, lw=2.0):
    check(x, y, name)
    df = pd.DataFrame({"x": np.asarray(x, float), "y": np.asarray(y, float)})
    seg = df["y"].isna().cumsum()
    ok = df["y"].notna()
    for _, part in df[ok].groupby(seg[ok]):
        if len(part) < 2:
            continue
        sns.lineplot(data=part, x="x", y="y", ax=ax, color=color, lw=lw,
                     estimator=None, sort=False, legend=False)


sns.set_theme(style="ticks")
plt.rcParams["font.family"] = ["DejaVu Sans"]
plt.rcParams["mathtext.fontset"] = "dejavusans"

W, H = 2291, 1396
fig = plt.figure(figsize=(W / 100, H / 100), dpi=100)
fig.patches.append(Rectangle((0, 0), 5 / W, 1, transform=fig.transFigure, color="black", zorder=10))

row_top = [67, 402, 739, 1077]
row_bot = [308, 645, 981, 1318]
left_px, left_w = 166.6, 1361.4
right_px, right_w = 1712, 586

axes_l, axes_r = [], []
for i in range(4):
    b = 1 - row_bot[i] / H
    h = (row_bot[i] - row_top[i]) / H
    axes_l.append(fig.add_axes([left_px / W, b, left_w / W, h]))
    axes_r.append(fig.add_axes([right_px / W, b, right_w / W, h]))

# row 1
a, r = axes_l[0], axes_r[0]
draw(a, bt1_x, bt1_red, RED, "bt1 red"); draw(a, bt1_x, bt1_black, BLUE, "bt1 blue")
draw(a, bt1_x, bt1_black, BLACK, "bt1 black"); draw(a, bt1_gray_x, bt1_gray, GRAY, "bt1 gray")
draw(a, bt2_x, bt2_black, RED, "bt2 red"); draw(a, bt2_x, bt2_black, BLUE, "bt2 blue")
draw(a, bt2_x, bt2_black, BLACK, "bt2 black", lw=2.3); draw(a, bt2_x[:len(bt2_gray)], bt2_gray, GRAY, "bt2 gray")
draw(r, sw_x, bt_sw_red, RED, "sw red"); draw(r, sw_x, bt_sw_blue, BLUE, "sw blue")
draw(r, sw_x, bt_sw_black, BLACK, "sw black"); draw(r, sw_x, bt_sw_gray, GRAY, "sw gray")

# row 2
a, r = axes_l[1], axes_r[1]
draw(a, dd1_x, dd1_red, RED, "dd1 red"); draw(a, dd1_x, dd1_blue, BLUE, "dd1 blue")
draw(a, dd1_x, dd1_black, BLACK, "dd1 black"); draw(a, dd1_x, dd1_gray, GRAY, "dd1 gray")
draw(a, dd2_x, dd2_red, RED, "dd2 red"); draw(a, dd2_x, dd2_blue, BLUE, "dd2 blue")
draw(a, dd2_x[:len(dd2_gray)], dd2_gray, GRAY, "dd2 gray"); draw(a, dd2_x, dd2_black, BLACK, "dd2 black")
draw(r, sw_x, dd_sw_red, RED, "ddsw red"); draw(r, sw_x, dd_sw_blue, BLUE, "ddsw blue")
draw(r, sw_x, dd_sw_black, BLACK, "ddsw black"); draw(r, sw_x, dd_sw_gray, GRAY, "ddsw gray")
for ax in (a, r):
    ax.axhline(0, color="black", lw=2.0, zorder=3)

# row 3
a, r = axes_l[2], axes_r[2]
draw(a, ss1_x, ss1_red, RED, "ss1 red"); draw(a, ss1_x, ss1_blue, BLUE, "ss1 blue")
draw(a, ss1_x, ss1_black, BLACK, "ss1 black"); draw(a, ss1_x, ss1_gray, GRAY, "ss1 gray")
draw(a, ss2_x, ss2_red, RED, "ss2 red"); draw(a, ss2_x, ss2_blue, BLUE, "ss2 blue")
draw(a, ss2_x, ss2_black, BLACK, "ss2 black"); draw(a, ss2_x[:len(ss2_gray)], ss2_gray, GRAY, "ss2 gray")
draw(r, sw_x, ss_sw_red, RED, "sssw red"); draw(r, sw_x, ss_sw_blue, BLUE, "sssw blue")
draw(r, sw_x, ss_sw_black, BLACK, "sssw black"); draw(r, sw_x, ss_sw_gray, GRAY, "sssw gray")

# row 4
a, r = axes_l[3], axes_r[3]
draw(a, ru1_x, ru1_black, RED, "ru1 red"); draw(a, ru1_x, ru1_black, BLUE, "ru1 blue")
draw(a, ru1_x, ru1_black, BLACK, "ru1 black"); draw(a, ru1_x, ru1_gray, GRAY, "ru1 gray")
draw(a, ru2_x, ru2_black, RED, "ru2 red"); draw(a, ru2_x, ru2_black, BLUE, "ru2 blue")
draw(a, ru2_x, ru2_black, BLACK, "ru2 black"); draw(a, ru2_x[:len(ru2_gray)], ru2_gray, GRAY, "ru2 gray")
draw(r, ru_sw_x, ru_sw_black, RED, "rusw red"); draw(r, ru_sw_x, ru_sw_black, BLUE, "rusw blue")
draw(r, ru_sw_x, ru_sw_black, BLACK, "rusw black"); draw(r, ru_sw_gray_x, ru_sw_gray, GRAY, "rusw gray", lw=1.6)

ylims_l = [(200, 270), (-0.1, 0.1), (0, 0.03), (0, 0.25)]
yticks_l = [[200, 220, 240, 260], [-0.1, -0.05, 0, 0.05, 0.1], [0, 0.01, 0.02, 0.03], [0, 0.05, 0.1, 0.15, 0.2, 0.25]]
ylims_r = [(200, 270), (-0.2, 0.1), (0, 0.05), (0, 0.25)]
yticks_r = [[200, 220, 240, 260], [-0.2, -0.1, 0, 0.1], [0, 0.01, 0.02, 0.03, 0.04, 0.05], [0, 0.05, 0.1, 0.15, 0.2, 0.25]]
ylab_center_px = [76, 60, 70, 68]
fmt = FuncFormatter(lambda v, p: f"{v:g}")

for i in range(4):
    for ax, xl, yl, yt, xt in ((axes_l[i], (650, 1750), ylims_l[i], yticks_l[i], range(700, 1800, 100)),
                               (axes_r[i], (2155, 2560), ylims_r[i], yticks_r[i], range(2200, 2600, 100))):
        ax.set_xlim(*xl)
        ax.set_ylim(*yl)
        ax.set_xticks(list(xt))
        ax.set_yticks(yt)
        ax.yaxis.set_major_formatter(fmt)
        ax.set_xlabel("")
        ax.set_ylabel("")
        ax.grid(True, color="#dedede", lw=1.5)
        ax.set_axisbelow(True)
        ax.tick_params(direction="in", length=10, width=1.5, top=True, right=True,
                       labelsize=18, colors=INK)
        ax.tick_params(axis="x", pad=7)
        ax.tick_params(axis="y", pad=9)
        for s in ax.spines.values():
            s.set_linewidth(1.8)
            s.set_color(INK)
    a = axes_l[i]
    a.set_ylabel(ylabels[i], fontsize=21, color=INK)
    a.yaxis.label.set_va("center")
    a.yaxis.set_label_coords((ylab_center_px[i] - left_px) / left_w, 0.5)
    fig.text(1010 / W, 1 - (row_top[i] - 15) / H, titles[i], ha="center", va="baseline",
             fontsize=20.5, fontweight="bold", color="black")

# tick labels that the legends hide in the reference
for lab in axes_r[0].get_xticklabels()[1:]:
    lab.set_visible(False)
for lab in axes_r[1].get_xticklabels()[:2]:
    lab.set_visible(False)

for ax, cx in ((axes_l[3], 837), (axes_r[3], 2006)):
    ax.set_xlabel("Wavenumber (cm$^{-1}$)", fontsize=20, color=INK)
    ax.xaxis.label.set_va("center")
    w = left_w if ax is axes_l[3] else right_w
    x0 = left_px if ax is axes_l[3] else right_px
    ax.xaxis.set_label_coords((cx - x0) / w, -(1376 - 1318) / 241)

handles = [Line2D([], [], color=c, lw=2.2) for c in (RED, BLUE, BLACK, GRAY)]
for ax, labels, (lx, ty) in ((axes_r[0], bt_legend, (1753, 251)), (axes_r[1], dd_legend, (1741, 592))):
    leg = ax.legend(handles, labels, loc="upper left", bbox_to_anchor=(lx / W, 1 - ty / H),
                    bbox_transform=fig.transFigure, fontsize=18, frameon=True, fancybox=False,
                    edgecolor=INK, framealpha=1, borderpad=0.3, labelspacing=0.0,
                    handlelength=3.8, handletextpad=0.35, borderaxespad=0)
    leg.get_frame().set_linewidth(1.5)
    leg.set_zorder(20)

fig.savefig("out.png", dpi=100)
